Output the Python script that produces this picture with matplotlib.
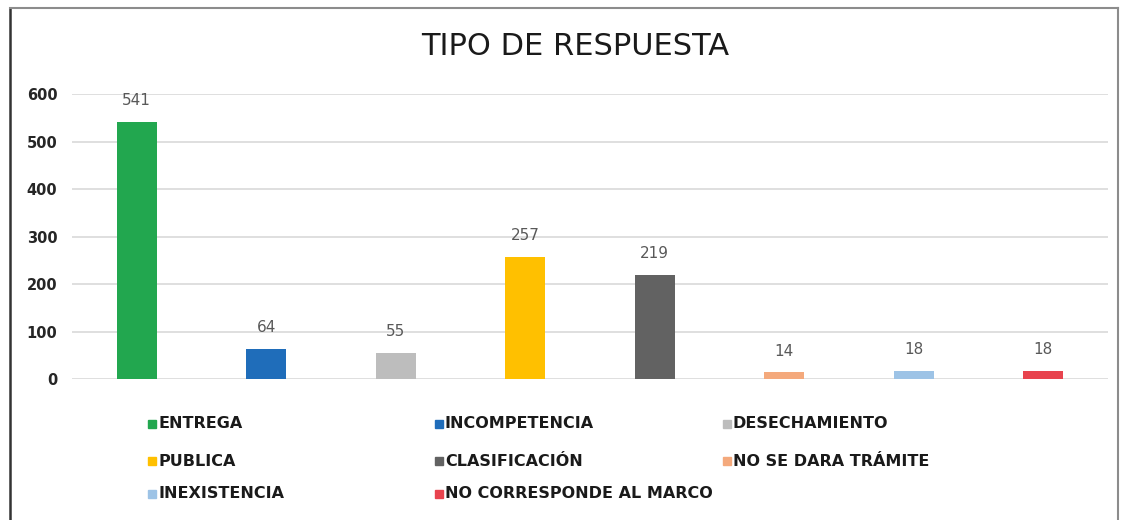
import matplotlib.pyplot as plt
from matplotlib.patches import Rectangle
from matplotlib.lines import Line2D

plt.rcParams['font.family'] = ['DejaVu Sans']

categorias = ['ENTREGA', 'INCOMPETENCIA', 'DESECHAMIENTO', 'PUBLICA',
              'CLASIFICACIÓN', 'NO SE DARA TRÁMITE', 'INEXISTENCIA',
              'NO CORRESPONDE AL MARCO']
valores = [541, 64, 55, 257, 219, 14, 18, 18]
colores = ['#22A74F', '#1F6DBA', '#BDBDBD', '#FFC000',
           '#626262', '#F4A97C', '#9DC3E6', '#E8434E']
yticks = [0, 100, 200, 300, 400, 500, 600]

fig = plt.figure(figsize=(11.25, 5.2), dpi=100)
ax = fig.add_axes([0.064, 0.271, 0.921, 0.548])

x = list(range(len(valores)))
bars = ax.bar(x, valores, width=0.31, color=colores, zorder=3)
for xi, v in zip(x, valores):
    ax.annotate(str(v), (xi, v), xytext=(0, 10), textcoords='offset points',
                ha='center', va='bottom', fontsize=11, color='#595959')

ax.set_xlim(-0.5, len(valores) - 0.5)
ax.set_ylim(0, 600)
ax.set_yticks(yticks)
ax.set_xticks([])
ax.yaxis.grid(True, color='#D9D9D9', linewidth=1.2, zorder=0)
ax.tick_params(axis='y', length=0, pad=10.5, labelsize=10.5, labelcolor='#262626')
for lbl in ax.get_yticklabels():
    lbl.set_fontweight('bold')
for s in ax.spines.values():
    s.set_visible(False)

fig.text(0.511, 0.91, 'TIPO DE RESPUESTA', ha='center', va='center',
         fontsize=22, color='#1a1a1a')

# leyenda manual en 3 columnas
col_x = [148 / 1125, 435 / 1125, 723 / 1125]
fila_y = [1 - 424 / 520, 1 - 461 / 520, 1 - 494 / 520]
for i, (nombre, c) in enumerate(zip(categorias, colores)):
    fila, col = divmod(i, 3)
    xx, yy = col_x[col], fila_y[fila]
    fig.patches.append(Rectangle((xx, yy - 4 / 520), 8 / 1125, 8 / 520,
                                 transform=fig.transFigure, color=c))
    fig.text(xx + 10 / 1125, yy, nombre, ha='left', va='center',
             fontsize=11.5, fontweight='bold', color='#1a1a1a')

# marco
fig.lines.append(Line2D([10 / 1125, 10 / 1125], [0, 1 - 8 / 520],
                        transform=fig.transFigure, color='#333333', lw=1.8))
fig.lines.append(Line2D([10 / 1125, 1118 / 1125], [1 - 8 / 520, 1 - 8 / 520],
                        transform=fig.transFigure, color='#8c8c8c', lw=1.5))
fig.lines.append(Line2D([1118 / 1125, 1118 / 1125], [0, 1 - 8 / 520],
                        transform=fig.transFigure, color='#8c8c8c', lw=1.5))

fig.savefig('out.png', dpi=100)
